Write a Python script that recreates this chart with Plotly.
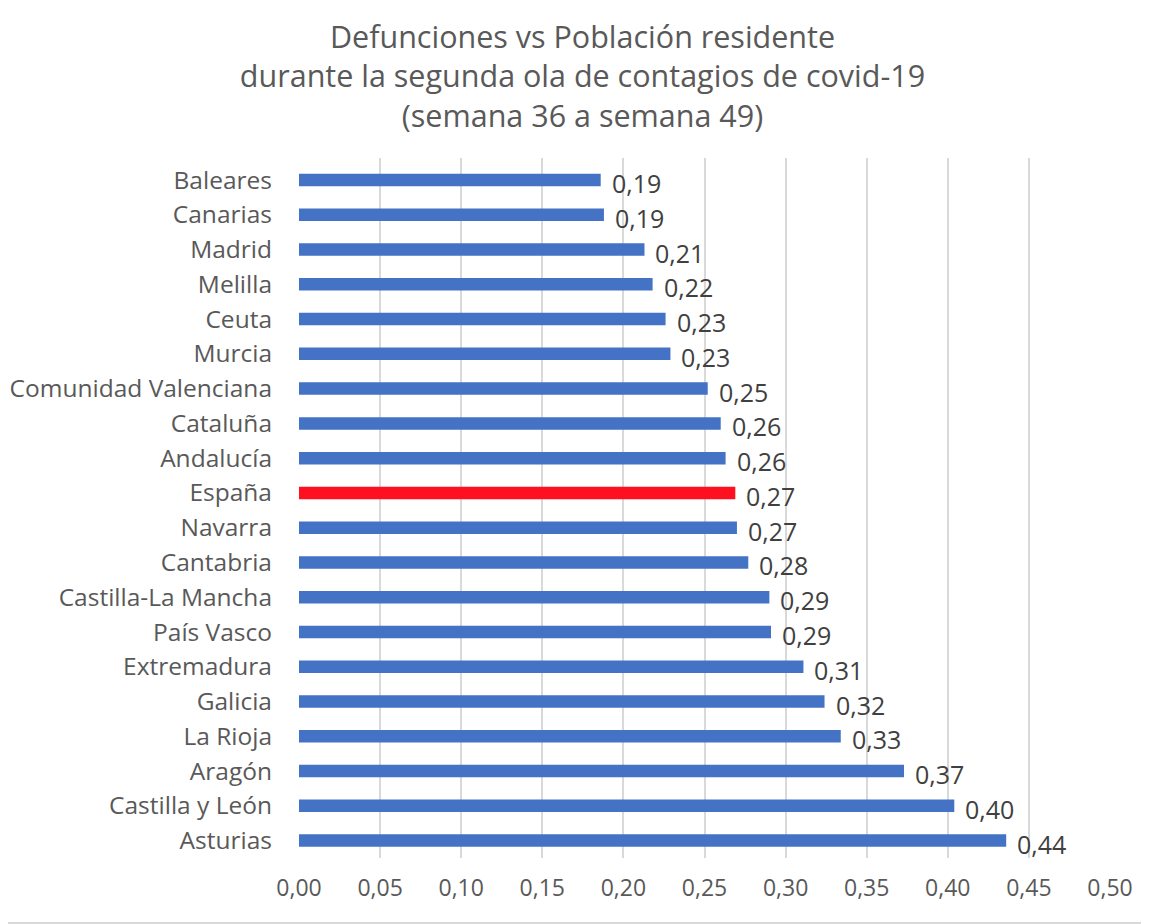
import plotly.graph_objects as go

# -----------------------------
# DATA
# -----------------------------
regiones = [
    "Baleares", "Canarias", "Madrid", "Melilla", "Ceuta", "Murcia",
    "Comunidad Valenciana", "Cataluña", "Andalucía", "España", "Navarra",
    "Cantabria", "Castilla-La Mancha", "País Vasco", "Extremadura",
    "Galicia", "La Rioja", "Aragón", "Castilla y León", "Asturias",
]
valores = [
    0.186, 0.188, 0.213, 0.218, 0.226, 0.229,
    0.252, 0.260, 0.263, 0.269, 0.270,
    0.277, 0.290, 0.291, 0.311,
    0.324, 0.334, 0.373, 0.404, 0.436,
]
tick_vals = [0.0, 0.05, 0.10, 0.15, 0.20, 0.25, 0.30, 0.35, 0.40, 0.45, 0.50]
tick_text = [f"{v:.2f}".replace(".", ",") for v in tick_vals]

FONT = "Open Sans"
AZUL = "#4472C4"
ROJO = "#FF1020"

colores = [ROJO if r == "España" else AZUL for r in regiones]

fig = go.Figure()
fig.add_trace(go.Bar(
    x=valores,
    y=regiones,
    orientation="h",
    marker=dict(color=colores, line=dict(width=0)),
    width=0.36,
    hoverinfo="x+y",
))

# etiquetas de datos (estilo Excel, algo por debajo del centro)
for r, v in zip(regiones, valores):
    fig.add_annotation(
        x=v, y=r,
        text=f"{v:.2f}".replace(".", ","),
        showarrow=False,
        xanchor="left",
        xshift=9,
        yshift=-3,
        font=dict(family=FONT, size=25, color="#404040"),
    )

fig.update_layout(
    width=1149,
    height=924,
    paper_bgcolor="white",
    plot_bgcolor="white",
    margin=dict(l=291, r=47, t=150, b=74),
    showlegend=False,
    title=dict(
        text="Defunciones vs Población residente<br>"
             "durante la segunda ola de contagios de covid-19<br>"
             "(semana 36 a semana 49)",
        x=0.5,
        xanchor="center",
        y=0.957,
        yanchor="top",
        font=dict(family=FONT, size=30.5, color="#595959"),
    ),
    xaxis=dict(
        range=[0, 0.5],
        tickvals=tick_vals,
        ticktext=tick_text,
        showgrid=True,
        gridcolor="#D9D9D9",
        gridwidth=1.5,
        zeroline=False,
        showline=False,
        ticks="",
        tickfont=dict(family=FONT, size=23, color="#595959"),
        ticklabelstandoff=14,
        automargin=False,
    ),
    yaxis=dict(
        categoryorder="array",
        categoryarray=regiones,
        autorange="reversed",
        showgrid=False,
        zeroline=False,
        showline=False,
        ticks="",
        ticklabelstandoff=26,
        tickfont=dict(family=FONT, size=24.5, color="#595959"),
        automargin=False,
    ),
)

# borde inferior gris del gráfico
fig.add_shape(
    type="line", xref="paper", yref="paper",
    x0=-0.5, x1=1.1, y0=-0.093, y1=-0.093,
    line=dict(color="#D9D9D9", width=2),
)

fig.write_html("out.html")
